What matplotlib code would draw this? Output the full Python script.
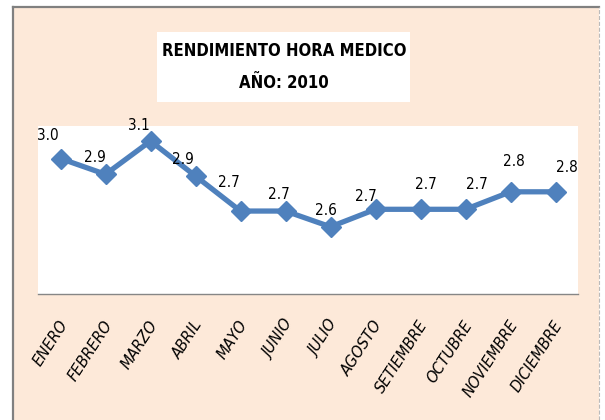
import matplotlib
matplotlib.use("Agg")
import matplotlib.pyplot as plt
import matplotlib.transforms as mtransforms
from matplotlib.patches import Rectangle
from matplotlib.lines import Line2D

# data
months = ["ENERO", "FEBRERO", "MARZO", "ABRIL", "MAYO", "JUNIO", "JULIO",
          "AGOSTO", "SETIEMBRE", "OCTUBRE", "NOVIEMBRE", "DICIEMBRE"]
values = [3.0, 2.91, 3.1, 2.9, 2.7, 2.7, 2.61, 2.71, 2.71, 2.71, 2.81, 2.81]
labels = ["3.0", "2.9", "3.1", "2.9", "2.7", "2.7", "2.6", "2.7", "2.7", "2.7", "2.8", "2.8"]

# label offsets (pixels) as placed in the original
label_dx = [-13, -11, -12, -13, -12, -7, -5, -10, 5, 11, 3, 11]
label_dy = [23, 17, 16, 17, 29, 17, 16, 13, 25, 25, 30, 24]

W, H = 605, 420
font = dict(family="DejaVu Sans", fontstretch="condensed")
bg = "#FDE9D9"
blue = "#4F81BD"

fig = plt.figure(figsize=(W / 100, H / 100), dpi=100, facecolor="white")

def fx(px):
    return px / W

def fy(py):
    return 1 - py / H

# chart frame
fig.patches.append(Rectangle((fx(12.5), 0), fx(599) - fx(12.5), fy(7), transform=fig.transFigure,
                             facecolor=bg, edgecolor="none", zorder=-2))
fig.lines.append(Line2D([fx(12.5), fx(12.5)], [0, fy(7)], transform=fig.transFigure, color="#808080", lw=1.6))
fig.lines.append(Line2D([fx(12.5), fx(599)], [fy(7), fy(7)], transform=fig.transFigure, color="#808080", lw=1.6))
fig.lines.append(Line2D([fx(599), fx(599)], [0, fy(7)], transform=fig.transFigure, color="#BBBBBB", lw=0.8, ls="--"))

# title box
fig.patches.append(Rectangle((fx(157), fy(102)), fx(410) - fx(157), fy(32) - fy(102), transform=fig.transFigure,
                             facecolor="white", edgecolor="none", zorder=-1))
fig.text(fx(284), fy(51.5), "RENDIMIENTO HORA MEDICO", ha="center", va="center",
         fontsize=12, fontweight="bold", **font)
fig.text(fx(284), fy(82.5), "AÑO: 2010", ha="center", va="center",
         fontsize=12, fontweight="bold", **font)

ax = fig.add_axes([fx(38), fy(294), fx(578) - fx(38), fy(126) - fy(294)])
ax.set_zorder(5)
ax.set_facecolor("white")
x = list(range(len(months)))
ax.plot(x, values, color=blue, lw=3.8, marker="D", markersize=10.5, zorder=3, clip_on=False)

for i, v in enumerate(values):
    ax.annotate(labels[i], (i, v), xytext=(label_dx[i], label_dy[i]), textcoords="offset pixels",
                ha="center", va="center", fontsize=11, color="black", **font)

ax.set_xlim(-0.5, 11.5)
ax.set_ylim(2.226, 3.186)
ax.set_yticks([])
ax.set_xticks(x)
ax.set_xticklabels(months, rotation=57, ha="right", va="center", rotation_mode="anchor",
                   fontsize=10.5, style="italic", family="DejaVu Sans")
ax.tick_params(axis="x", length=0, pad=20)
shift = mtransforms.ScaledTranslation(4 / 100, 0, fig.dpi_scale_trans)
for t in ax.get_xticklabels():
    t.set_transform(t.get_transform() + shift)
for s in ["top", "right", "left"]:
    ax.spines[s].set_visible(False)
ax.spines["bottom"].set_color("#868686")
ax.spines["bottom"].set_linewidth(1.0)

fig.savefig("out.png", dpi=100, facecolor="white")
